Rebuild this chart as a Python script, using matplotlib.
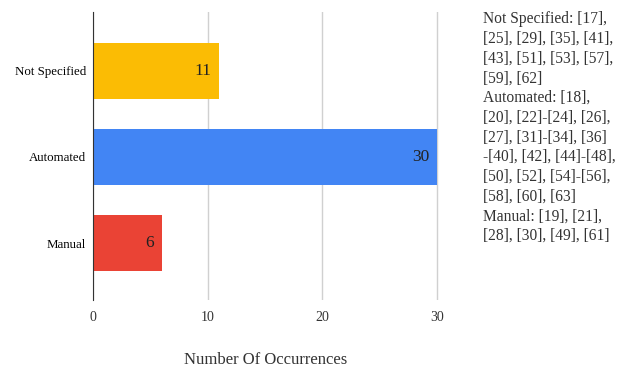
import matplotlib.pyplot as plt

categories = ["Not Specified", "Automated", "Manual"]
counts = [11, 30, 6]
colors = ["#FBBC04", "#4285F4", "#EA4335"]
xticks = [0, 10, 20, 30]
side_note = ("Not Specified: [17],\n[25], [29], [35], [41],\n[43], [51], [53], [57],\n"
             "[59], [62]\nAutomated: [18],\n[20], [22]-[24], [26],\n[27], [31]-[34], [36]\n"
             "-[40], [42], [44]-[48],\n[50], [52], [54]-[56],\n[58], [60], [63]\n"
             "Manual: [19], [21],\n[28], [30], [49], [61]")

plt.rcParams['font.family'] = ['Liberation Serif', 'DejaVu Serif']

fig = plt.figure(figsize=(6.29, 3.69), dpi=100)
ax = fig.add_axes([93/629, 1 - 300/369, 346/629, 288/369])

ypos = list(range(len(categories)))
bars = ax.barh(ypos, counts, height=0.65, color=colors, zorder=3)
for b, v in zip(bars, counts):
    ax.text(b.get_width() - 0.7, b.get_y() + b.get_height() / 2, str(v),
            ha='right', va='center', fontsize=12.5, color='#222222', zorder=4)

ax.set_ylim(2.66, -0.68)
ax.set_xlim(0, 30.17)
ax.set_yticks(ypos)
ax.set_yticklabels(categories, fontsize=9.3)
ax.set_xticks(xticks)
ax.set_xticklabels([str(t) for t in xticks], fontsize=10, color='#333333')
ax.tick_params(axis='y', length=0, pad=5)
ax.tick_params(axis='x', length=0, pad=8)
ax.grid(axis='x', color='#d0d0d0', linewidth=1, zorder=0)
for s in ['top', 'right', 'bottom']:
    ax.spines[s].set_visible(False)
ax.spines['left'].set_color('#333333')
ax.spines['left'].set_zorder(5)
ax.set_xlabel("Number Of Occurrences", fontsize=12, color='#333333', labelpad=20)

fig.text(483/629, 1 - 11/369, side_note, ha='left', va='top', fontsize=11.2,
         color='#333333', linespacing=1.31)

fig.savefig("out.png", dpi=100)
